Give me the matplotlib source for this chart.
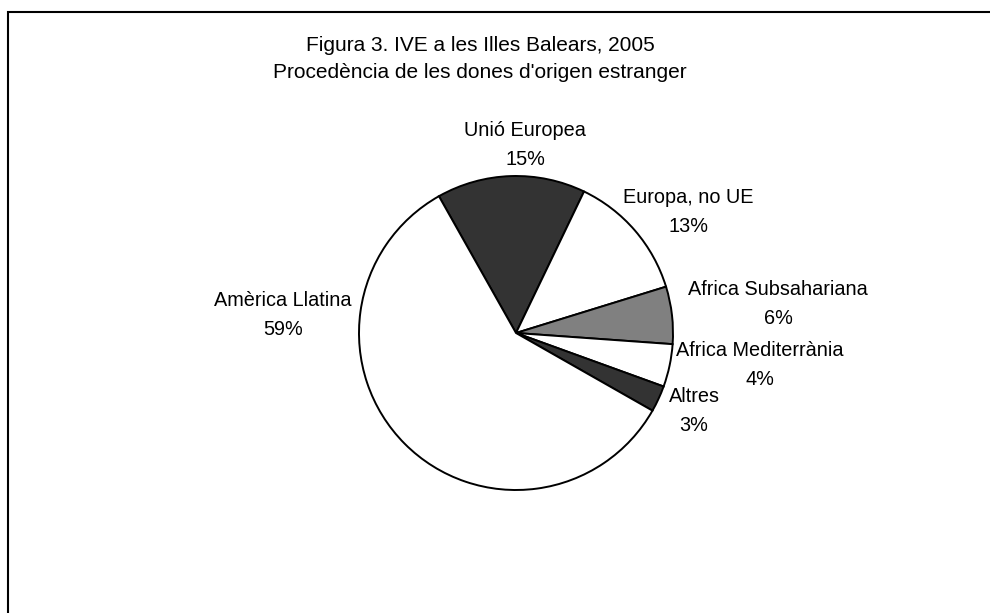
import numpy as np
import matplotlib.pyplot as plt
import matplotlib.patches as patches

plt.rcParams['font.family'] = ['Liberation Sans', 'DejaVu Sans']

# dades (percentatge de dones d'origen estranger)
regions = ['Unió Europea', 'Europa, no UE', 'Africa Subsahariana',
           'Africa Mediterrània', 'Altres', 'Amèrica Llatina']
shares = [15.3, 13.1, 5.9, 4.4, 2.7, 58.6]
colors = ['#333333', '#ffffff', '#808080', '#ffffff', '#333333', '#ffffff']

title = "Figura 3. IVE a les Illes Balears, 2005\nProcedència de les dones d'origen estranger"

# layout in pixels (y measured from top)
W, H = 990, 613
center = (516, 333)
radius = 157
label_pos = [(525, 145), (688, 212), (778, 304), (760, 365), (694, 411), (283, 315)]

fig = plt.figure(figsize=(W/100, H/100), dpi=100)
ax = fig.add_axes([0, 0, 1, 1])
ax.set_xlim(0, W)
ax.set_ylim(0, H)
ax.axis('off')

wedges, _ = ax.pie(shares, colors=colors, startangle=119.4, counterclock=False,
                   center=(center[0], H - center[1]), radius=radius,
                   wedgeprops=dict(edgecolor='black', linewidth=1.4))
ax.set_xlim(0, W)
ax.set_ylim(0, H)
ax.set_aspect('auto')

for name, v, (x, y) in zip(regions, shares, label_pos):
    ax.text(x, H - y, "%s\n%.0f%%" % (name, v), ha='center', va='center',
            fontsize=14.3, linespacing=1.62)

ax.text(480, H - 59, title, ha='center', va='center', fontsize=15, linespacing=1.55)

# marc del gràfic
ax.add_patch(patches.Rectangle((8, -20), W + 20, H - 12 + 20, fill=False,
                               edgecolor='black', linewidth=1.5, clip_on=False))

fig.savefig('out.png', dpi=100)
